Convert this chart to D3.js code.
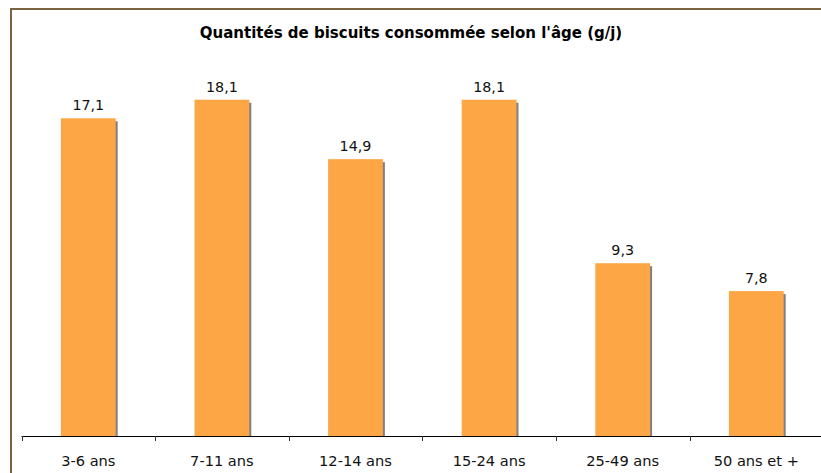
<!DOCTYPE html>
<html>
<head>
<meta charset="utf-8">
<script src="https://cdn.jsdelivr.net/npm/d3@7"></script>
<style>
  body { margin: 0; background: #fff; }
  svg { display: block; font-family: Verdana, "DejaVu Sans", sans-serif; }
</style>
</head>
<body>
<div id="chart"></div>
<script>
(function () {

  // data
  const categories = ["3-6 ans", "7-11 ans", "12-14 ans", "15-24 ans", "25-49 ans", "50 ans et +"];
  const values = [17.1, 18.1, 14.9, 18.1, 9.3, 7.8];
  const title = "Quantités de biscuits consommée selon l'âge (g/j)";

  const width = 821, height = 473;
  const fmt = v => v.toFixed(1).replace(".", ",");

  const svg = d3.select("#chart").append("svg")
    .attr("width", width)
    .attr("height", height);

  // frame
  svg.append("rect")
    .attr("x", 11).attr("y", 9)
    .attr("width", 840).attr("height", 500)
    .attr("fill", "none")
    .attr("stroke", "#7b6340")
    .attr("stroke-width", 2);

  const x = d3.scaleBand()
    .domain(categories)
    .range([21.5, 21.5 + 6 * 133.6])
    .paddingInner(0.59)
    .paddingOuter(0.295);

  const y = d3.scaleLinear()
    .domain([0, 20])
    .range([436, 64.4]);

  svg.append("text")
    .attr("x", 411).attr("y", 38)
    .attr("text-anchor", "middle")
    .style("font-size", "15px")
    .style("font-weight", "bold")
    .text(title);

  const g = svg.selectAll(".bar")
    .data(values)
    .enter().append("g")
    .attr("class", "bar");

  // shadow
  g.append("rect")
    .attr("x", (d, i) => x(categories[i]) + 2)
    .attr("y", d => y(d) + 3)
    .attr("width", x.bandwidth())
    .attr("height", d => y(0) - y(d) - 3)
    .attr("fill", "#808080");

  g.append("rect")
    .attr("x", (d, i) => x(categories[i]))
    .attr("y", d => y(d))
    .attr("width", x.bandwidth())
    .attr("height", d => y(0) - y(d))
    .attr("fill", "#fca646");

  g.append("text")
    .attr("x", (d, i) => x(categories[i]) + x.bandwidth() / 2)
    .attr("y", d => y(d) - 8)
    .attr("text-anchor", "middle")
    .style("font-size", "14.3px")
    .style("fill", "#111")
    .text(fmt);

  // axis
  svg.append("line")
    .attr("x1", 21.5).attr("x2", width)
    .attr("y1", 436.5).attr("y2", 436.5)
    .attr("stroke", "#000");

  const bounds = d3.range(categories.length + 1).map(i => x.step() * i + 21.5);
  svg.selectAll(".tick")
    .data(bounds)
    .enter().append("line")
    .attr("x1", d => Math.round(d) + 0.5)
    .attr("x2", d => Math.round(d) + 0.5)
    .attr("y1", 436)
    .attr("y2", 441)
    .attr("stroke", "#333");

  svg.selectAll(".xlab")
    .data(categories)
    .enter().append("text")
    .attr("x", d => x(d) + x.bandwidth() / 2)
    .attr("y", 466)
    .attr("text-anchor", "middle")
    .style("font-size", "14.6px")
    .style("fill", "#111")
    .text(d => d);

})();
</script>
</body>
</html>
